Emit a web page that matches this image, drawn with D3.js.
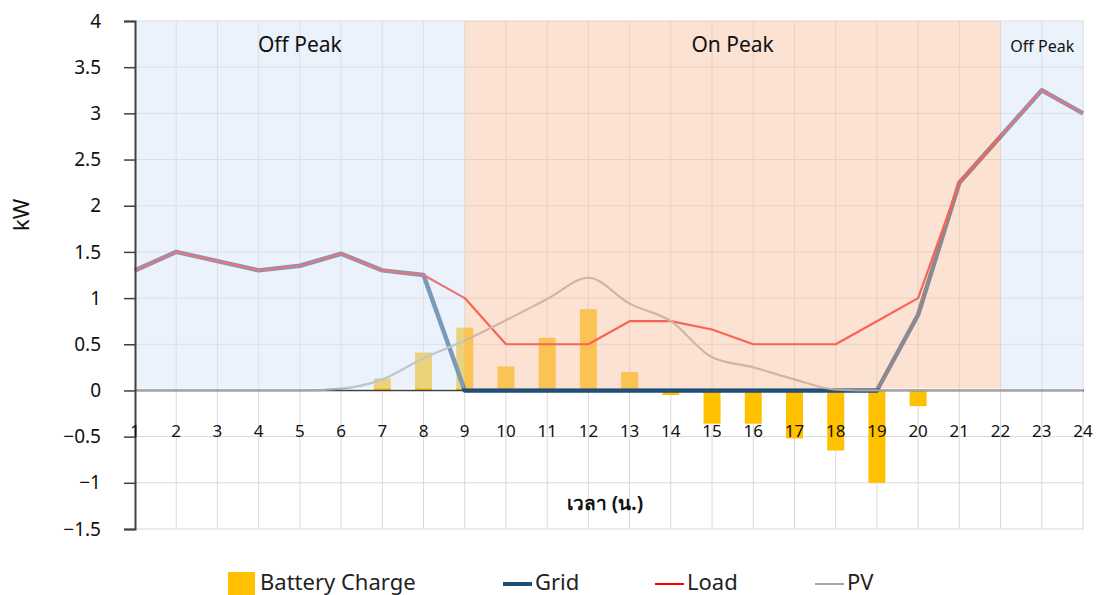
<!DOCTYPE html>
<html>
<head>
<meta charset="utf-8">
<script src="https://cdn.jsdelivr.net/npm/d3@7"></script>
<style>
  body { margin: 0; background: #fff; }
  svg { display: block; font-family: "Noto Sans", "DejaVu Sans", sans-serif; }
</style>
</head>
<body>
<div id="chart"></div>
<script>
// Hour of day (categories on the x axis)
const hours = [1, 2, 3, 4, 5, 6, 7, 8, 9, 10, 11, 12, 13, 14, 15, 16, 17, 18, 19, 20, 21, 22, 23, 24];

// Series values in kW
const batteryCharge = [0, 0, 0, 0, 0, 0, 0.13, 0.41, 0.68, 0.26, 0.57, 0.88, 0.2, -0.05, -0.36, -0.36, -0.52, -0.65, -1.0, -0.17, 0, 0, 0, 0];
const grid = [1.3, 1.5, 1.4, 1.3, 1.35, 1.48, 1.3, 1.25, 0, 0, 0, 0, 0, 0, 0, 0, 0, 0, 0, 0.82, 2.25, 2.75, 3.25, 3.0];
const load = [1.3, 1.5, 1.4, 1.3, 1.35, 1.48, 1.3, 1.25, 1.0, 0.5, 0.5, 0.5, 0.75, 0.75, 0.66, 0.5, 0.5, 0.5, 0.75, 1.0, 2.25, 2.75, 3.25, 3.0];
const pv = [0, 0, 0, 0, 0, 0.02, 0.12, 0.35, 0.54, 0.76, 0.99, 1.22, 0.94, 0.75, 0.36, 0.25, 0.12, 0.01, 0, 0, 0, 0, 0, 0];

// Tariff periods shaded behind the chart (start / end hour)
const periodNames = ["Off Peak", "On Peak", "Off Peak"];
const periodStart = [1, 9, 22];
const periodEnd = [9, 22, 24];

const yTicks = [-1.5, -1, -0.5, 0, 0.5, 1, 1.5, 2, 2.5, 3, 3.5, 4];

const legendNames = ["Battery Charge", "Grid", "Load", "PV"];

const width = 1098, height = 595;
const plotLeft = 135, plotRight = 1084, plotTop = 21, plotBottom = 529;

const x = d3.scalePoint().domain(hours).range([plotLeft, 1083]);
const y = d3.scaleLinear().domain([-1.5, 4]).range([plotBottom, plotTop]);

const svg = d3.select("#chart")
    .append("svg")
    .attr("width", width)
    .attr("height", height);

// gridlines
svg.append("g")
    .selectAll("line")
    .data(yTicks)
    .enter()
    .append("line")
    .attr("x1", plotLeft).attr("x2", plotRight)
    .attr("y1", (d) => y(d)).attr("y2", (d) => y(d))
    .attr("stroke", "#d9d9d9")
    .attr("stroke-width", 1);

svg.append("g")
    .selectAll("line")
    .data(hours.slice(1))
    .enter()
    .append("line")
    .attr("x1", (d) => x(d)).attr("x2", (d) => x(d))
    .attr("y1", plotTop).attr("y2", plotBottom)
    .attr("stroke", "#d9d9d9")
    .attr("stroke-width", 1);

// battery bars
const barW = 17;
svg.append("g")
    .selectAll("rect")
    .data(batteryCharge)
    .enter()
    .append("rect")
    .attr("x", (d, i) => x(hours[i]) - barW / 2)
    .attr("width", barW)
    .attr("y", (d) => y(Math.max(0, d)))
    .attr("height", (d) => Math.abs(y(d) - y(0)))
    .attr("fill", "#ffc000");

// x axis line at zero
svg.append("line")
    .attr("x1", plotLeft).attr("x2", plotRight)
    .attr("y1", y(0)).attr("y2", y(0))
    .attr("stroke", "#404040")
    .attr("stroke-width", 1.5);

// lines
const line = d3.line()
    .x((d, i) => x(hours[i]))
    .y((d) => y(d));

svg.append("path")
    .attr("d", line(grid))
    .attr("fill", "none")
    .attr("stroke", "#1f4e79")
    .attr("stroke-width", 4.5)
    .attr("stroke-linejoin", "round");

svg.append("path")
    .attr("d", line(load))
    .attr("fill", "none")
    .attr("stroke", "#ff0000")
    .attr("stroke-width", 2.2)
    .attr("stroke-linejoin", "round");

svg.append("path")
    .attr("d", line.curve(d3.curveMonotoneX)(pv))
    .attr("fill", "none")
    .attr("stroke", "#a5a5a5")
    .attr("stroke-width", 2.2);

// translucent period shading laid over the positive half
const shade = { "Off Peak": "#d7e5f7", "On Peak": "#f7c5a7" };
const periodX1 = (i) => (periodEnd[i] === 24 ? plotRight : x(periodEnd[i]));
svg.append("g")
    .selectAll("rect")
    .data(periodNames)
    .enter()
    .append("rect")
    .attr("x", (d, i) => x(periodStart[i]))
    .attr("width", (d, i) => periodX1(i) - x(periodStart[i]))
    .attr("y", plotTop)
    .attr("height", y(0) - 2 - plotTop)
    .attr("fill", (d) => shade[d])
    .attr("opacity", 0.5);

svg.append("g")
    .selectAll("text")
    .data(periodNames)
    .enter()
    .append("text")
    .attr("x", (d, i) => (periodX1(i) + x(periodStart[i])) / 2)
    .attr("y", 52)
    .attr("text-anchor", "middle")
    .attr("font-size", (d, i) => (periodEnd[i] - periodStart[i] < 4 ? 16 : 21))
    .attr("fill", "#111")
    .text((d) => d);

// y axis
const yAxis = svg.append("g")
    .attr("transform", "translate(" + plotLeft + ",0)")
    .call(d3.axisLeft(y).tickValues(yTicks).tickSize(11).tickPadding(23)
        .tickFormat((d) => (d < 0 ? "\u2212" : "") + Math.abs(d)));
yAxis.select(".domain").attr("stroke", "#404040").attr("stroke-width", 2);
yAxis.selectAll(".tick line").attr("stroke", "#404040").attr("stroke-width", 1.5);
yAxis.selectAll("text").attr("font-size", 19).attr("fill", "#111")
    .attr("font-family", "\"Noto Sans\", sans-serif");

// x tick labels sit below the zero line
svg.append("g")
    .selectAll("text")
    .data(hours)
    .enter()
    .append("text")
    .attr("x", (d) => x(d))
    .attr("y", 437)
    .attr("text-anchor", "middle")
    .attr("font-size", 17)
    .attr("fill", "#111")
    .text((d) => d);

// axis titles
svg.append("text")
    .attr("transform", "translate(29,215) rotate(-90)")
    .attr("text-anchor", "middle")
    .attr("font-size", 22)
    .attr("fill", "#111")
    .text("kW");

svg.append("text")
    .attr("x", 605)
    .attr("y", 510)
    .attr("text-anchor", "middle")
    .attr("font-size", 19)
    .attr("font-weight", "bold")
    .attr("fill", "#111")
    .text("เวลา (น.)");

// legend
const legendX = [228, 503, 655, 815];
const legend = svg.append("g");
legend.append("rect")
    .attr("x", legendX[0]).attr("y", 572)
    .attr("width", 27).attr("height", 23)
    .attr("fill", "#ffc000");
const legendStroke = ["#1f4e79", "#ff0000", "#a5a5a5"];
const legendStrokeW = [4, 2, 2];
legend.selectAll("line")
    .data(legendStroke)
    .enter()
    .append("line")
    .attr("x1", (d, i) => legendX[i + 1]).attr("x2", (d, i) => legendX[i + 1] + 29)
    .attr("y1", 584).attr("y2", 584)
    .attr("stroke", (d) => d)
    .attr("stroke-width", (d, i) => legendStrokeW[i]);
legend.selectAll("text")
    .data(legendNames)
    .enter()
    .append("text")
    .attr("x", (d, i) => legendX[i] + 32)
    .attr("y", 590)
    .attr("font-size", 22)
    .attr("fill", "#222")
    .text((d) => d);
</script>
</body>
</html>
